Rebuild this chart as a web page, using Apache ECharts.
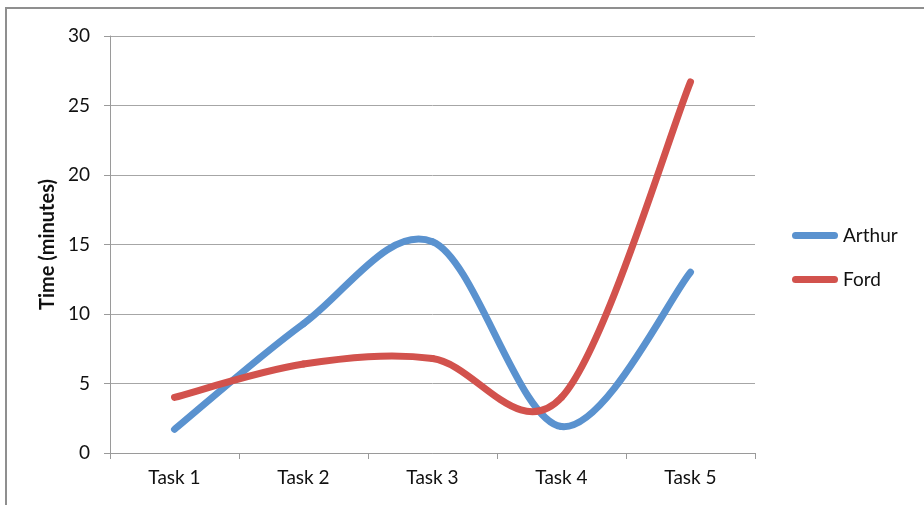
<!DOCTYPE html>
<html>
<head>
<meta charset="utf-8">
<title>Task times</title>
<script src="https://cdn.jsdelivr.net/npm/echarts@6/dist/echarts.min.js"></script>
<style>
  html, body { margin: 0; padding: 0; background: #ffffff; overflow: hidden; }
  #frame {
    position: absolute; left: 5px; top: 7px; width: 1000px; height: 1000px;
    border: 2px solid #8f8f8f; box-sizing: border-box;
  }
  #chart { position: absolute; left: 0; top: 0; width: 924px; height: 505px; }
</style>
</head>
<body>
<div id="frame"></div>
<div id="chart"></div>
<script>
// Categories and measured times (minutes)
const tasks = ['Task 1', 'Task 2', 'Task 3', 'Task 4', 'Task 5'];
const arthur = [1.7, 9.3, 15.2, 1.9, 13.0];
const ford = [4.0, 6.4, 6.8, 4.0, 26.7];
const yTicks = { min: 0, max: 30, interval: 5 };

const FONT = 'Lato, "Open Sans", sans-serif';
const BLUE = '#5a92cf';
const RED = '#d2524d';

// Each data item draws the smoothed segment from its point to the next one,
// using cardinal (Catmull-Rom) control points computed in pixel space.
function smoothSegment(values, color) {
  return function (params, api) {
    const i = params.dataIndex;
    if (i >= values.length - 1) return null;
    const n = values.length;
    const at = function (k) {
      const j = Math.max(0, Math.min(n - 1, k));
      return api.coord([j, values[j]]);
    };
    const p0 = at(i - 1), p1 = at(i), p2 = at(i + 1), p3 = at(i + 2);
    return {
      type: 'bezierCurve',
      shape: {
        x1: p1[0], y1: p1[1],
        cpx1: p1[0] + (p2[0] - p0[0]) / 6, cpy1: p1[1] + (p2[1] - p0[1]) / 6,
        cpx2: p2[0] - (p3[0] - p1[0]) / 6, cpy2: p2[1] - (p3[1] - p1[1]) / 6,
        x2: p2[0], y2: p2[1]
      },
      style: { stroke: color, fill: 'none', lineWidth: 7, lineCap: 'round' },
      silent: true
    };
  };
}

function makeSeries(name, values, color) {
  return {
    name: name,
    type: 'custom',
    coordinateSystem: 'cartesian2d',
    itemStyle: { color: color },
    data: values.map(function (v, i) { return [i, v]; }),
    encode: { x: 0, y: 1 },
    renderItem: smoothSegment(values, color)
  };
}

const chart = echarts.init(document.getElementById('chart'), null, { renderer: 'canvas' });
chart.setOption({
  animation: false,
  backgroundColor: 'transparent',
  textStyle: { fontFamily: FONT },
  grid: { left: 110, right: 169, top: 36, bottom: 52 },
  legend: {
    orient: 'vertical',
    left: 792,
    top: 226,
    padding: 0,
    itemWidth: 46,
    itemHeight: 7,
    itemGap: 25,
    icon: 'path://M3.5,0 H42.5 A3.5,3.5 0 0 1 42.5,7 H3.5 A3.5,3.5 0 0 1 3.5,0 Z',
    textStyle: { fontFamily: FONT, fontSize: 19, color: '#111' },
    data: ['Arthur', 'Ford']
  },
  xAxis: {
    type: 'category',
    data: tasks,
    boundaryGap: true,
    axisLine: { lineStyle: { color: '#9a9a9a', width: 1 } },
    axisTick: { show: true, length: 6, inside: false, lineStyle: { color: '#9a9a9a' } },
    axisLabel: { fontFamily: FONT, fontSize: 19, color: '#111', margin: 15 },
    splitLine: { show: false }
  },
  yAxis: {
    type: 'value',
    min: yTicks.min,
    max: yTicks.max,
    interval: yTicks.interval,
    name: 'Time (minutes)',
    nameLocation: 'middle',
    nameGap: 46,
    nameRotate: 90,
    nameTextStyle: { fontFamily: FONT, fontSize: 20, fontWeight: 'bold', color: '#111' },
    axisLine: { show: true, lineStyle: { color: '#9a9a9a', width: 1 } },
    axisTick: { show: true, length: 6, inside: false, lineStyle: { color: '#9a9a9a' } },
    axisLabel: { fontFamily: FONT, fontSize: 19, color: '#111', margin: 20 },
    splitLine: { show: true, lineStyle: { color: '#a6a6a6', width: 1 } }
  },
  series: [
    makeSeries('Arthur', arthur, BLUE),
    makeSeries('Ford', ford, RED)
  ]
});
</script>
</body>
</html>
